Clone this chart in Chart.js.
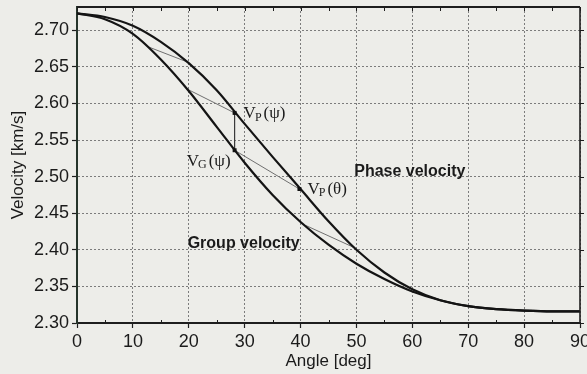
<!DOCTYPE html>
<html>
<head>
<meta charset="utf-8">
<script src="https://cdn.jsdelivr.net/npm/chart.js@4.4.1/dist/chart.umd.min.js"></script>
<style>
  html, body { margin: 0; padding: 0; background: #edede9; }
  #wrap { width: 587px; height: 374px; }
</style>
</head>
<body>
<div id="wrap"><canvas id="grafico"></canvas></div>
<script>
// Datos (ángulo en grados, velocidad en km/s)
const angulos = [0, 5, 10, 15, 20, 25, 30, 35, 40, 45, 50, 55, 60, 65, 70, 75, 80, 85, 90];
const velFase = [2.723, 2.718, 2.706, 2.684, 2.655, 2.618, 2.572, 2.527, 2.483, 2.439, 2.400, 2.369, 2.346, 2.331, 2.323, 2.319, 2.317, 2.316, 2.316];
const velGrupo = [2.723, 2.715, 2.695, 2.660, 2.617, 2.568, 2.519, 2.475, 2.438, 2.407, 2.381, 2.360, 2.343, 2.331, 2.323, 2.319, 2.317, 2.316, 2.316];
const ticksX = [0, 10, 20, 30, 40, 50, 60, 70, 80, 90];
const ticksY = [2.30, 2.35, 2.40, 2.45, 2.50, 2.55, 2.60, 2.65, 2.70];

// Segmentos finos de la construcción (inicio en la curva de grupo, fin en la de fase)
const segAngulos = [[12.5, 19.6], [19.6, 28.2], [28.2, 39.8], [41.0, 49.6]];
const segVel = [[2.678, 2.657], [2.620, 2.587], [2.536, 2.483], [2.433, 2.403]];

// Puntos marcados: Vp(psi), Vg(psi), Vp(theta)
const puntosAngulo = [28.2, 28.2, 39.8];
const puntosVel = [2.587, 2.536, 2.483];

const fuenteEje = 'Liberation Sans, Arial, Helvetica, sans-serif';
const fuenteSerif = 'Liberation Serif, Times New Roman, serif';
const colorTexto = '#1b1b1b';

const datasets = [
    {
        label: 'Phase velocity',
        data: angulos.map((a, i) => ({ x: a, y: velFase[i] })),
        borderColor: '#141414',
        borderWidth: 2.2,
        pointRadius: 0,
        cubicInterpolationMode: 'monotone',
        order: 1
    },
    {
        label: 'Group velocity',
        data: angulos.map((a, i) => ({ x: a, y: velGrupo[i] })),
        borderColor: '#141414',
        borderWidth: 2.2,
        pointRadius: 0,
        cubicInterpolationMode: 'monotone',
        order: 1
    }
];

segAngulos.forEach((s, i) => {
    datasets.push({
        label: 'seg' + i,
        data: [{ x: s[0], y: segVel[i][0] }, { x: s[1], y: segVel[i][1] }],
        borderColor: '#707070',
        borderWidth: 1,
        pointRadius: 0,
        order: 3
    });
});

// Línea vertical entre Vp(psi) y Vg(psi)
datasets.push({
    label: 'vertical',
    data: [{ x: puntosAngulo[0], y: puntosVel[0] }, { x: puntosAngulo[1], y: puntosVel[1] }],
    borderColor: '#3a3a3a',
    borderWidth: 1.2,
    pointRadius: 0,
    order: 2
});

datasets.push({
    label: 'puntos',
    data: puntosAngulo.map((a, i) => ({ x: a, y: puntosVel[i] })),
    showLine: false,
    pointStyle: 'rect',
    pointRadius: 2.8,
    backgroundColor: '#111',
    borderColor: '#111',
    borderWidth: 0,
    order: 0
});

// Textos dentro del gráfico, en coordenadas de datos + desplazamiento en px
const etiquetas = [
    { x: 28.2, y: 2.587, dx: 9, dy: 1, base: 'V', sub: 'P', resto: '(\u03C8)', align: 'left' },
    { x: 28.2, y: 2.536, dx: -4, dy: 11, base: 'V', sub: 'G', resto: '(\u03C8)', align: 'right' },
    { x: 39.8, y: 2.483, dx: 8, dy: 0, base: 'V', sub: 'P', resto: '(\u03B8)', align: 'left' }
];
const titulosCurvas = [
    { x: 49.6, y: 2.507, texto: 'Phase velocity' },
    { x: 19.8, y: 2.409, texto: 'Group velocity' }
];

function dibujarSub(ctx, x, y, e) {
    const fMain = '17px ' + fuenteSerif;
    const fSub = '12px ' + fuenteSerif;
    ctx.font = fMain;
    const wBase = ctx.measureText(e.base).width;
    const wResto = ctx.measureText(e.resto).width;
    ctx.font = fSub;
    const wSub = ctx.measureText(e.sub).width;
    const total = wBase + wSub + 1 + wResto;
    let x0 = e.align === 'right' ? x - total : x;
    ctx.textBaseline = 'middle';
    ctx.textAlign = 'left';
    ctx.font = fMain;
    ctx.fillText(e.base, x0, y);
    ctx.font = fSub;
    ctx.fillText(e.sub, x0 + wBase - 1, y + 4);
    ctx.font = fMain;
    ctx.fillText(e.resto, x0 + wBase + wSub + 1, y);
}

const pluginMarco = {
    id: 'marco',
    beforeDraw(chart) {
        const ctx = chart.ctx;
        ctx.save();
        ctx.fillStyle = '#edede9';
        ctx.fillRect(0, 0, chart.width, chart.height);
        ctx.restore();
    },
    afterDraw(chart) {
        const ctx = chart.ctx;
        const a = chart.chartArea;
        const sx = chart.scales.x, sy = chart.scales.y;
        ctx.save();
        ctx.strokeStyle = '#1e1e1e';
        // borde superior y derecho
        ctx.lineWidth = 2;
        ctx.beginPath();
        ctx.moveTo(a.left, a.top);
        ctx.lineTo(a.right, a.top);
        ctx.stroke();
        ctx.lineWidth = 1.6;
        ctx.beginPath();
        ctx.moveTo(a.right, a.top);
        ctx.lineTo(a.right, a.bottom);
        ctx.stroke();
        // marcas menores
        ctx.lineWidth = 1;
        ctx.beginPath();
        for (let v = 0; v <= 90; v += 5) {
            const px = Math.round(sx.getPixelForValue(v)) + 0.5;
            ctx.moveTo(px, a.top);
            ctx.lineTo(px, a.top + 4);
            if (v % 10 !== 0) {
                ctx.moveTo(px, a.bottom);
                ctx.lineTo(px, a.bottom - 3);
            }
        }
        ticksY.forEach(v => {
            const py = Math.round(sy.getPixelForValue(v)) + 0.5;
            ctx.moveTo(a.right, py);
            ctx.lineTo(a.right + 4, py);
        });
        ctx.stroke();

        // textos
        ctx.fillStyle = colorTexto;
        ctx.font = 'bold 16px ' + fuenteEje;
        ctx.textAlign = 'left';
        ctx.textBaseline = 'middle';
        titulosCurvas.forEach(t => {
            ctx.fillText(t.texto, sx.getPixelForValue(t.x), sy.getPixelForValue(t.y));
        });
        etiquetas.forEach(e => {
            dibujarSub(ctx, sx.getPixelForValue(e.x) + e.dx, sy.getPixelForValue(e.y) + e.dy, e);
        });
        ctx.restore();
    }
};

document.addEventListener('DOMContentLoaded', function() {
    const ctx = document.getElementById('grafico').getContext('2d');
    new Chart(ctx, {
        type: 'line',
        data: { datasets: datasets },
        options: {
            responsive: true,
            maintainAspectRatio: false,
            animation: false,
            layout: { padding: { top: 7, right: 7, left: 0, bottom: 0 } },
            plugins: {
                legend: { display: false },
                tooltip: { enabled: false }
            },
            scales: {
                x: {
                    type: 'linear',
                    min: 0,
                    max: 90,
                    afterBuildTicks: s => { s.ticks = ticksX.map(v => ({ value: v })); },
                    afterFit: s => { s.height = 51; s.paddingLeft = 0; s.paddingRight = 0; },
                    ticks: {
                        color: colorTexto,
                        font: { family: fuenteEje, size: 18 },
                        padding: 3,
                        maxRotation: 0,
                        callback: v => String(v)
                    },
                    grid: {
                        color: '#7c7c7c',
                        lineWidth: 1,
                        tickLength: 5,
                        tickColor: '#1e1e1e',
                        tickWidth: 1.2
                    },
                    border: { display: true, color: '#1e1e1e', width: 2, dash: [2, 2] },
                    title: {
                        display: true,
                        text: 'Angle [deg]',
                        color: colorTexto,
                        font: { family: fuenteEje, size: 17 },
                        padding: { top: 0, bottom: 2 }
                    }
                },
                y: {
                    type: 'linear',
                    min: 2.30,
                    max: 2.7317,
                    afterBuildTicks: s => { s.ticks = ticksY.map(v => ({ value: v })); },
                    afterFit: s => { s.width = 77; s.paddingTop = 0; s.paddingBottom = 0; },
                    ticks: {
                        color: colorTexto,
                        font: { family: fuenteEje, size: 18 },
                        padding: 3,
                        callback: v => Number(v).toFixed(2)
                    },
                    grid: {
                        color: '#7c7c7c',
                        lineWidth: 1,
                        tickLength: 5,
                        tickColor: '#1e1e1e',
                        tickWidth: 1.2
                    },
                    border: { display: true, color: '#26352b', width: 2, dash: [2, 2] },
                    title: {
                        display: true,
                        text: 'Velocity [km/s]',
                        color: colorTexto,
                        font: { family: fuenteEje, size: 17 },
                        padding: { top: 8, bottom: 0 }
                    }
                }
            }
        },
        plugins: [pluginMarco]
    });
});
</script>
</body>
</html>
